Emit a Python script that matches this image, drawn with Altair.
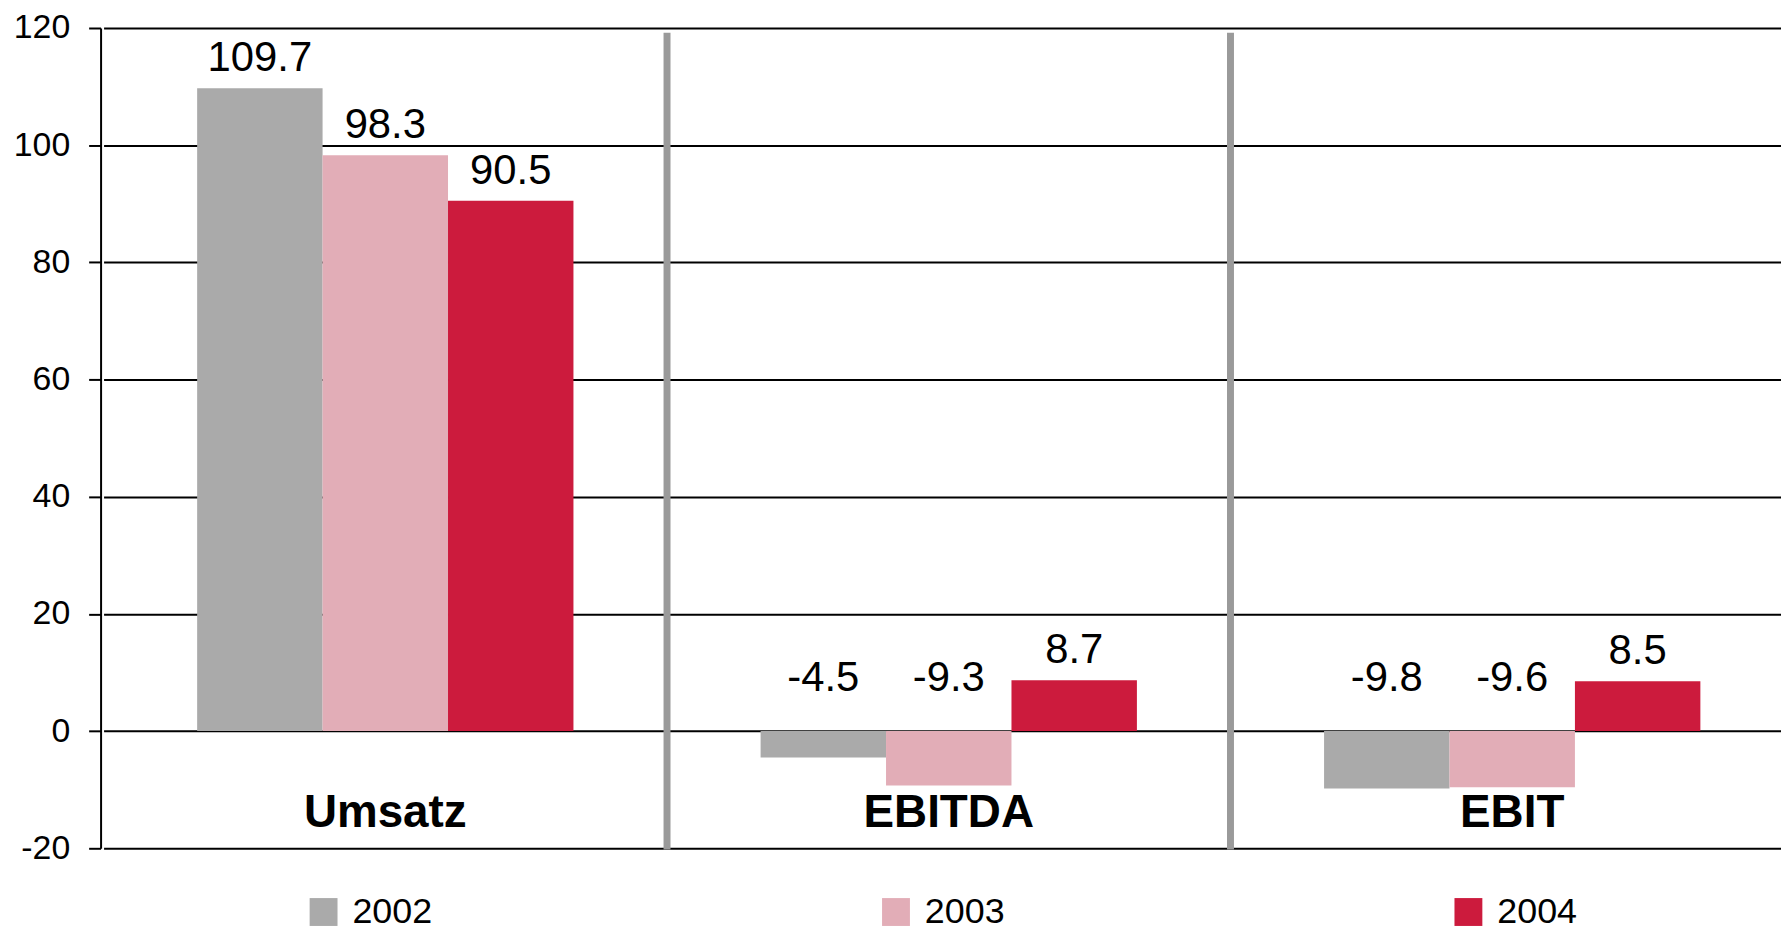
import altair as alt
import pandas as pd

categories = ["Umsatz", "EBITDA", "EBIT"]
years = ["2002", "2003", "2004"]
values_2002 = [109.7, -4.5, -9.8]
values_2003 = [98.3, -9.3, -9.6]
values_2004 = [90.5, 8.7, 8.5]
colors = ["#AAAAAA", "#E2ADB7", "#CC1B3D"]
y_ticks = [-20, 0, 20, 40, 60, 80, 100, 120]

rows = []
for year, vals in zip(years, [values_2002, values_2003, values_2004]):
    for cat, v in zip(categories, vals):
        rows.append({"category": cat, "year": year, "value": v, "label": f"{v:.1f}"})
df = pd.DataFrame(rows)
cat_df = pd.DataFrame({"category": categories})
sep_df = pd.DataFrame({"category": categories[1:]})

FONT = "Liberation Sans"

x_scale = alt.Scale(domain=categories, range=[3, 1701], paddingInner=0, paddingOuter=0)
y_scale = alt.Scale(domain=[-20, 120], nice=False)
off_scale = alt.Scale(domain=years, paddingInner=0, paddingOuter=0.746)

x_enc = alt.X("category:N", sort=categories, scale=x_scale, axis=None)

y_axis = alt.Axis(
    values=y_ticks,
    title=None,
    labelExpr="datum.value + ''",
    labelFont=FONT,
    labelFontSize=34,
    labelColor="black",
    labelPadding=19,
    tickSize=12,
    tickWidth=2,
    tickColor="black",
    domainColor="black",
    domainWidth=2,
    grid=True,
    gridColor="black",
    gridWidth=2,
)

bars = alt.Chart(df).mark_bar(strokeWidth=0).encode(
    x=x_enc,
    xOffset=alt.XOffset("year:N", sort=years, scale=off_scale),
    y=alt.Y("value:Q", scale=y_scale, axis=y_axis),
    color=alt.Color(
        "year:N",
        sort=years,
        scale=alt.Scale(domain=years, range=colors),
        legend=alt.Legend(
            title=None,
            orient="none",
            legendX=206,
            legendY=870,
            direction="horizontal",
            columns=3,
            columnPadding=447,
            symbolType="square",
            symbolSize=784,
            symbolStrokeWidth=0,
            labelFont=FONT,
            labelFontSize=36,
            labelColor="black",
            labelOffset=11,
            padding=0,
        ),
    ),
)

labels = alt.Chart(df).transform_calculate(
    label_y="datum.value > 0 ? datum.value : 4"
).mark_text(
    dy=-17, fontSize=42, font=FONT, baseline="alphabetic", align="center", color="black"
).encode(
    x=x_enc,
    xOffset=alt.XOffset("year:N", sort=years, scale=off_scale),
    y=alt.Y("label_y:Q", scale=y_scale, axis=y_axis),
    text="label:N",
)

cat_labels = alt.Chart(cat_df).mark_text(
    fontSize=46, font=FONT, fontWeight="bold", baseline="alphabetic", align="center", color="black"
).encode(
    x=x_enc,
    y=alt.datum(-16.4),
    text="category:N",
)

separators = alt.Chart(sep_df).mark_rule(color="#9A9A9A", strokeWidth=7).encode(
    x=alt.X("category:N", sort=categories, scale=x_scale, axis=None, bandPosition=0),
    y=alt.datum(119.2),
    y2=alt.datum(-20.2),
)

chart = alt.layer(bars, separators, labels, cat_labels).properties(
    width=1688,
    height=824,
    padding={"left": 93, "top": 18, "right": 0, "bottom": 84},
    autosize=alt.AutoSizeParams(type="none"),
).configure(font=FONT).configure_view(stroke=None)

chart.save("out.html", embed_options={"renderer": "svg", "actions": False})
